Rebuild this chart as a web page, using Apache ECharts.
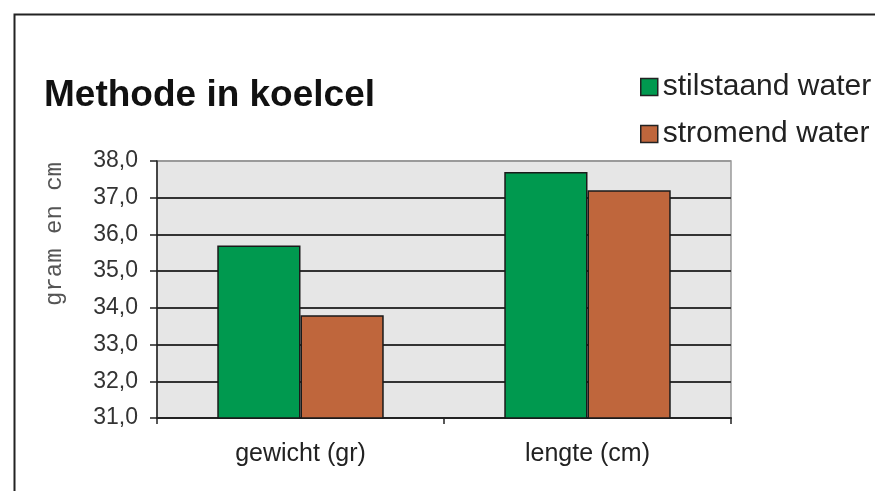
<!DOCTYPE html>
<html>
<head>
<meta charset="utf-8">
<script src="https://cdn.jsdelivr.net/npm/echarts@6/dist/echarts.min.js"></script>
<style>
html,body{margin:0;padding:0;background:#fff;}
#chart{width:875px;height:491px;}
</style>
</head>
<body>
<div id="chart"></div>
<script>
const categories = ['gewicht (gr)', 'lengte (cm)'];
const seriesNames = ['stilstaand water', 'stromend water'];
const stilstaand = [35.7, 37.7];
const stromend = [33.8, 37.2];
const yAxisTitle = 'gram en cm';
const chartTitle = 'Methode in koelcel';
const yMin = 31, yMax = 38, yInterval = 1;

const chart = echarts.init(document.getElementById('chart'));
const gridColors = ['#333','#333','#333','#333','#333','#333','#333','#9a9a9a'];
chart.setOption({
  animation: false,
  backgroundColor: '#fff',
  graphic: [
    { type: 'rect', left: 12, top: 12, shape: { width: 900, height: 600 },
      style: { fill: 'none', stroke: '#222', lineWidth: 2 }, z: 0 },
    { type: 'text', x: 55, y: 234, rotation: Math.PI / 2,
      style: { text: yAxisTitle, fontFamily: 'Courier New, Liberation Mono, monospace', fontSize: 24,
               fill: '#555', align: 'center', verticalAlign: 'middle' } }
  ],
  title: {
    text: chartTitle,
    left: 44, top: 77, padding: 0,
    textStyle: { fontFamily: 'Liberation Sans', fontWeight: 'bold', fontSize: 37, color: '#111' }
  },
  legend: {
    orient: 'vertical',
    left: 640, top: 72, padding: 0,
    itemWidth: 17, itemHeight: 17, itemGap: 17,
    icon: 'rect',
    itemStyle: { borderColor: '#222', borderWidth: 1.5 },
    textStyle: { fontFamily: 'Liberation Sans', fontSize: 30, color: '#222' },
    data: seriesNames
  },
  grid: {
    left: 157, right: 144, top: 161, bottom: 73,
    outerBoundsMode: 'none',
    show: true, backgroundColor: '#e6e6e6', borderColor: '#9a9a9a', borderWidth: 1.5,
    containLabel: false
  },
  xAxis: {
    type: 'category',
    data: categories,
    axisLine: { lineStyle: { color: '#222', width: 2 } },
    axisTick: { show: true, length: 6, lineStyle: { color: '#222', width: 1.5 } },
    axisLabel: { fontFamily: 'Liberation Sans', fontSize: 25, color: '#222', margin: 24 }
  },
  yAxis: {
    type: 'value',
    min: yMin, max: yMax, interval: yInterval,
    axisLine: { show: true, lineStyle: { color: '#222', width: 1.5 } },
    axisTick: { show: true, length: 7, lineStyle: { color: '#222', width: 1.5 } },
    axisLabel: {
      fontFamily: 'Liberation Sans', fontSize: 23, color: '#333', margin: 19,
      formatter: v => v.toFixed(1).replace('.', ',')
    },
    splitLine: { show: true, lineStyle: { color: gridColors, width: 2 } }
  },
  series: [
    { name: seriesNames[0], type: 'bar', data: stilstaand, barGap: '0%', barCategoryGap: '42%',
      itemStyle: { color: '#00994f', borderColor: '#1a1a1a', borderWidth: 1.5 } },
    { name: seriesNames[1], type: 'bar', data: stromend,
      itemStyle: { color: '#bf663c', borderColor: '#1a1a1a', borderWidth: 1.5 } }
  ]
});
</script>
</body>
</html>
